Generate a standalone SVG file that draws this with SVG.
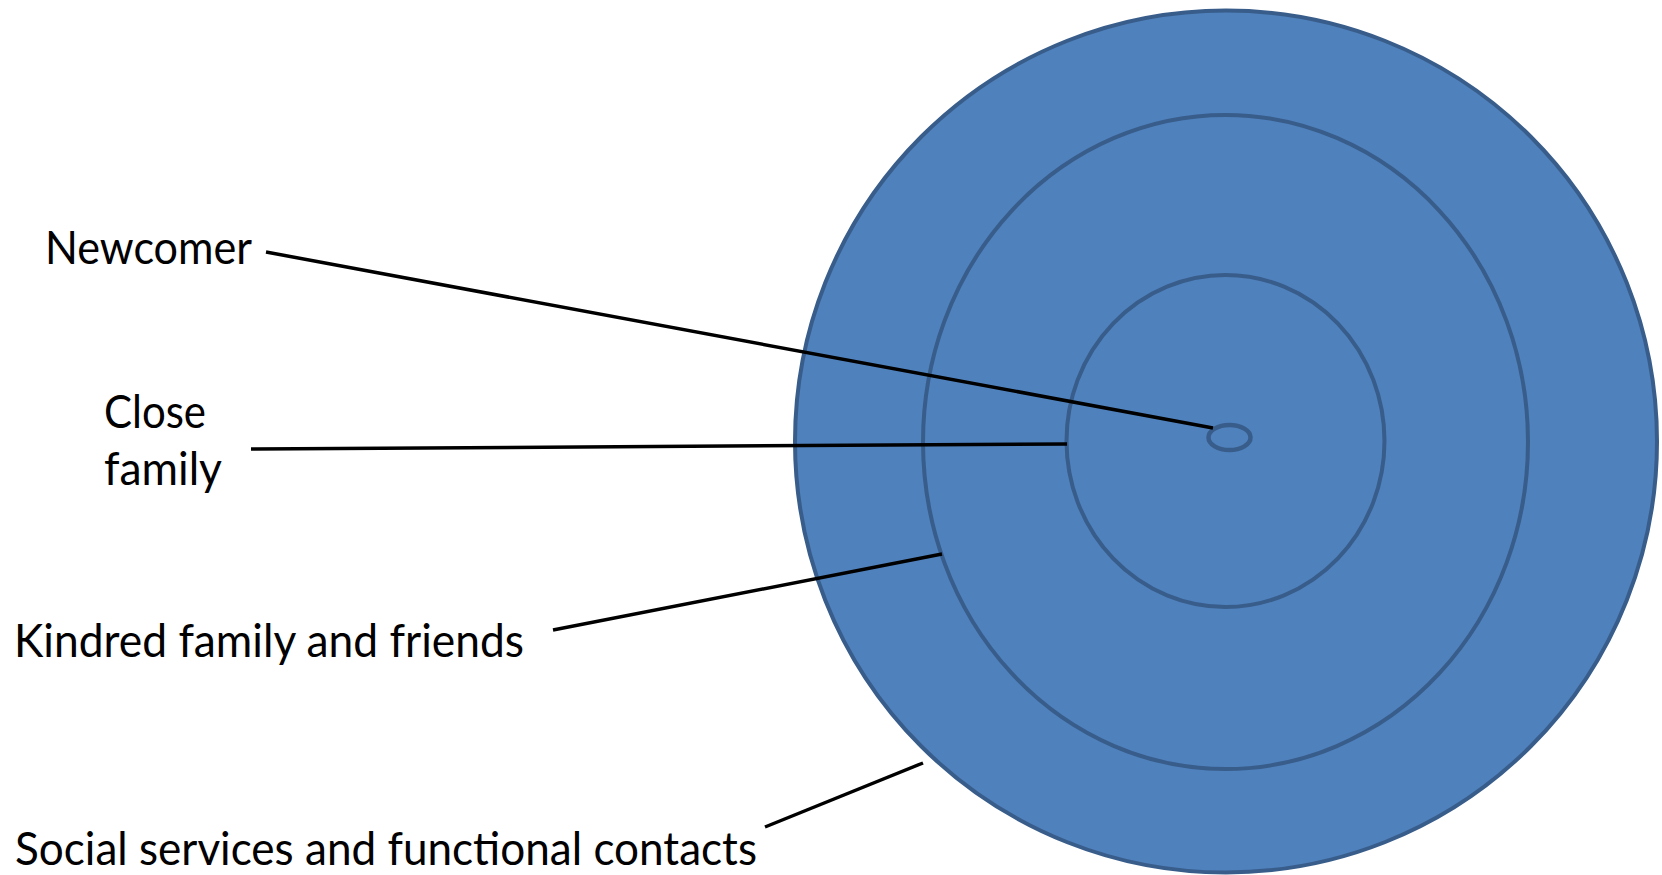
<svg xmlns="http://www.w3.org/2000/svg" width="1662" height="875" viewBox="0 0 1662 875">
  <style>
    .ring { fill: #4F81BD; stroke: #385D8A; stroke-width: 4; }
    .inner { fill: none; stroke: #385D8A; stroke-width: 4; }
    .lbl { font-family: Lato, "Liberation Sans", sans-serif; font-size: 46px; fill: #000; }
    .conn line { stroke: #000; stroke-width: 3.5; }
  </style>
  <rect width="1662" height="875" fill="#ffffff"/>
  <g id="outer-ring">
    <circle class="ring" cx="1226" cy="441.5" r="431"/>
  </g>
  <g id="middle-ring">
    <ellipse class="inner" cx="1225.5" cy="442" rx="302.5" ry="327"/>
  </g>
  <g id="inner-ring">
    <ellipse class="inner" cx="1225.5" cy="441" rx="159" ry="166"/>
  </g>
  <g id="newcomer-dot">
    <ellipse class="inner" cx="1229.5" cy="437.5" rx="21" ry="12.5" style="stroke-width:4.5"/>
  </g>
  <g id="connectors" class="conn">
    <line x1="266" y1="252" x2="1213" y2="428"/>
    <line x1="251" y1="449" x2="1067" y2="444"/>
    <line x1="553" y1="630" x2="942" y2="554"/>
    <line x1="765" y1="827" x2="923" y2="763"/>
  </g>
  <g id="label-newcomer">
    <text class="lbl" x="45" y="264" textLength="207" lengthAdjust="spacingAndGlyphs">Newcomer</text>
  </g>
  <g id="label-close-family">
    <text class="lbl" x="104" y="428" textLength="102" lengthAdjust="spacingAndGlyphs">Close</text>
    <text class="lbl" x="104" y="485" textLength="118" lengthAdjust="spacingAndGlyphs">family</text>
  </g>
  <g id="label-kindred">
    <text class="lbl" x="14" y="657" textLength="510" lengthAdjust="spacingAndGlyphs">Kindred family and friends</text>
  </g>
  <g id="label-social">
    <text class="lbl" x="15" y="865" textLength="742" lengthAdjust="spacingAndGlyphs">Social services and functional contacts</text>
  </g>
</svg>
